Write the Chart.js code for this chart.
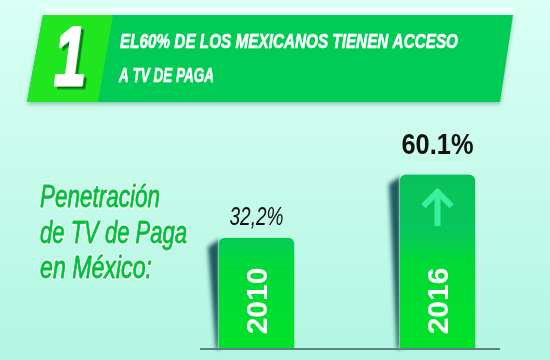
<!DOCTYPE html>
<html>
<head>
<meta charset="utf-8">
<script src="https://cdn.jsdelivr.net/npm/chart.js@4.4.1/dist/chart.umd.min.js"></script>
<style>
  body { margin: 0; background: #c8fbec; }
  #wrap { width: 550px; height: 360px; }
</style>
</head>
<body>
<div id="wrap"><canvas id="canvas" width="550" height="360"></canvas></div>
<script>
const years = ['2010', '2016']
const penetracion = [32.2, 60.1]
const valueLabels = ['32,2%', '60.1%']
const titleLines = ['EL60% DE LOS MEXICANOS TIENEN ACCESO', 'A TV DE PAGA']
const sideLines = ['Penetración', 'de TV de Paga', 'en México:']

const narrow = '"Liberation Sans Narrow", "Liberation Sans", Arial, sans-serif'
const ejeMin = -17.4
const ctx = document.getElementById('canvas')

// fondo + banner
const fondo = {
  id: 'fondo',
  beforeDraw(chart) {
    const c = chart.ctx
    c.save()
    let g = c.createLinearGradient(0, 0, 0, 360)
    g.addColorStop(0, '#dafff5')
    g.addColorStop(1, '#b2f6e2')
    c.fillStyle = g
    c.fillRect(0, 0, 550, 360)

    // reflejo blanco arriba del banner
    c.fillStyle = 'rgba(255,255,255,0.55)'
    c.beginPath()
    c.moveTo(46, 8); c.lineTo(516, 8); c.lineTo(514, 15); c.lineTo(44, 15)
    c.closePath(); c.fill()

    // banner oscuro
    c.shadowColor = 'rgba(0,80,60,0.35)'
    c.shadowBlur = 4
    c.shadowOffsetY = 2
    c.fillStyle = '#00cc55'
    c.beginPath()
    c.moveTo(43, 15); c.lineTo(513, 15); c.lineTo(500, 102); c.lineTo(27, 102)
    c.closePath(); c.fill()
    c.shadowColor = 'transparent'

    // parte clara
    c.fillStyle = '#1fe61f'
    c.beginPath()
    c.moveTo(43, 15); c.lineTo(113, 15); c.lineTo(98, 102); c.lineTo(27, 102)
    c.closePath(); c.fill()

    // numero 1
    c.font = 'italic bold 84px ' + narrow
    c.textBaseline = 'alphabetic'
    c.lineJoin = 'round'
    c.lineWidth = 3
    c.fillStyle = 'rgba(0,60,20,0.45)'
    c.strokeStyle = 'rgba(0,60,20,0.45)'
    c.fillText('1', 57, 88, 32)
    c.strokeText('1', 57, 88, 32)
    c.fillStyle = '#ffffff'
    c.strokeStyle = '#ffffff'
    c.fillText('1', 54, 85, 32)
    c.strokeText('1', 54, 85, 32)

    // titulo
    c.font = 'italic bold 21px ' + narrow
    c.fillStyle = '#ffffff'
    c.strokeStyle = '#ffffff'
    c.lineWidth = 0.6
    c.fillText(titleLines[0], 120, 48, 338)
    c.fillText(titleLines[1], 119, 82, 95)
    c.strokeText(titleLines[0], 120, 48, 338)
    c.strokeText(titleLines[1], 119, 82, 95)

    // texto lateral
    c.font = 'italic 31px ' + narrow
    c.lineWidth = 3.5
    c.strokeStyle = 'rgba(255,255,255,0.9)'
    const widths = [120, 147, 112]
    const bases = [207, 243, 278]
    sideLines.forEach((t, i) => {
      c.strokeText(t, 40, bases[i], widths[i])
    })
    c.fillStyle = '#00c03a'
    c.strokeStyle = '#00c03a'
    c.lineWidth = 0.9
    sideLines.forEach((t, i) => {
      c.fillText(t, 40, bases[i], widths[i])
      c.strokeText(t, 40, bases[i], widths[i])
    })
    c.restore()
  },
  beforeDatasetsDraw(chart) {
    // sombra de las barras
    const c = chart.ctx
    const meta = chart.getDatasetMeta(0)
    c.save()
    c.filter = 'blur(2px)'
    c.fillStyle = 'rgba(5,60,70,0.85)'
    meta.data.forEach(bar => {
      const left = bar.x - bar.width / 2
      c.beginPath()
      c.moveTo(left + 2, bar.y + 2)
      c.lineTo(left - 10, bar.y + 10)
      c.lineTo(left - 2, bar.base)
      c.lineTo(left + 2, bar.base)
      c.closePath()
      c.fill()
    })
    c.restore()
  },
  afterDatasetsDraw(chart) {
    const c = chart.ctx
    const meta = chart.getDatasetMeta(0)
    const area = chart.chartArea
    c.save()
    // linea base
    c.strokeStyle = '#5f8087'
    c.lineWidth = 2
    c.beginPath()
    c.moveTo(200, area.bottom)
    c.lineTo(500, area.bottom)
    c.stroke()

    meta.data.forEach((bar, i) => {
      // valor
      c.textAlign = 'center'
      c.textBaseline = 'alphabetic'
      c.fillStyle = '#111111'
      if (i === 0) {
        c.font = 'italic 25px ' + narrow
        c.fillText(valueLabels[i], bar.x, bar.y - 12, 54)
      } else {
        c.font = 'bold 30px ' + narrow
        c.fillText(valueLabels[i], bar.x, bar.y - 20, 72)
      }

      // año vertical
      c.save()
      c.translate(bar.x + 2, bar.base - 48)
      c.rotate(-Math.PI / 2)
      c.font = 'bold 30px "Liberation Sans", Arial, sans-serif'
      c.textBaseline = 'middle'
      c.fillStyle = '#ffffff'
      c.fillText(years[i], 0, 0, 70)
      c.restore()

      // flecha de subida
      if (i > 0 && penetracion[i] > penetracion[i - 1]) {
        const ax = bar.x
        const ay = bar.y + 15
        c.strokeStyle = '#3bef9c'
        c.lineWidth = 6
        c.lineCap = 'square'
        c.lineJoin = 'miter'
        c.beginPath()
        c.moveTo(ax, ay + 34)
        c.lineTo(ax, ay + 4)
        c.stroke()
        c.beginPath()
        c.moveTo(ax - 12, ay + 15)
        c.lineTo(ax, ay + 3)
        c.lineTo(ax + 12, ay + 15)
        c.stroke()
      }
    })
    c.restore()
  }
}

function barFill(context) {
  const chart = context.chart
  const area = chart.chartArea
  if (!area) return '#00d93a'
  const y = chart.scales.y
  const top = y.getPixelForValue(penetracion[context.dataIndex])
  const g = chart.ctx.createLinearGradient(0, top, 0, area.bottom)
  if (context.dataIndex === 1) {
    g.addColorStop(0, '#08c25c')
    g.addColorStop(0.34, '#06c85a')
    g.addColorStop(0.5, '#00da36')
    g.addColorStop(1, '#00e228')
  } else {
    g.addColorStop(0, '#06c85a')
    g.addColorStop(0.2, '#00d83c')
    g.addColorStop(1, '#00e228')
  }
  return g
}

new Chart(ctx, {
  type: 'bar',
  data: {
    labels: years,
    datasets: [{
      label: 'Penetración de TV de Paga',
      data: penetracion,
      base: ejeMin,
      backgroundColor: barFill,
      borderColor: 'rgba(255,255,255,0.55)',
      borderWidth: 1,
      borderSkipped: 'bottom',
      borderRadius: { topLeft: 7, topRight: 7 },
      barThickness: 77
    }]
  },
  options: {
    responsive: false,
    animation: false,
    layout: { padding: { left: 166, right: 22, top: 129, bottom: 11 } },
    plugins: {
      legend: { display: false },
      title: { display: false },
      tooltip: { enabled: false }
    },
    scales: {
      x: { display: false },
      y: { display: false, min: ejeMin, max: 80 }
    }
  },
  plugins: [fondo]
});
</script>
</body>
</html>
